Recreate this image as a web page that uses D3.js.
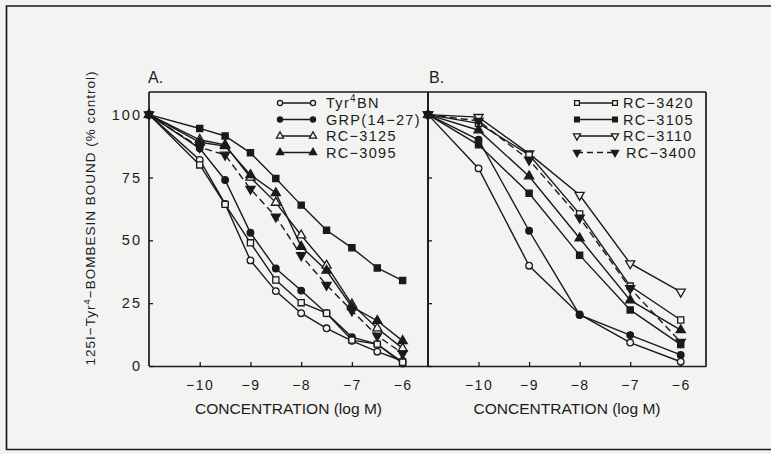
<!DOCTYPE html>
<html>
<head>
<meta charset="utf-8">
<script src="https://cdn.jsdelivr.net/npm/d3@7"></script>
<style>
  html, body { margin: 0; padding: 0; background: #f3f3f1; }
  svg { display: block; }
  text { font-family: "Liberation Sans", Arial, Helvetica, sans-serif; fill: #1c1c1c; }
</style>
</head>
<body>
<svg id="chart" width="771" height="454"></svg>
<script>
// Doses (log M); the first point of each curve is the no-peptide control
const doseA = [-11, -10, -9.5, -9, -8.5, -8, -7.5, -7, -6.5, -6];
const doseB = [-11, -10, -9, -8, -7, -6];
const yTicks = [0, 25, 50, 75, 100];
const xTicks = [-10, -9, -8, -7, -6];

// Panel A: 125I-Tyr4-bombesin bound, % of control
const tyrBN_A   = [100, 82, 64.5, 42, 29.8, 21, 15, 10, 5.7, 2];
const grp_A     = [100, 86.6, 74, 53, 38.8, 30, 21, 11.5, 8.7, 1];
const rc3420_A  = [100, 80, 64.3, 49, 34.2, 25.2, 21, 10.3, 8.7, 1.5];
const rc3105_A  = [100, 94.5, 91.5, 84.8, 74.6, 64, 54, 47, 39, 34];
const rc3125_A  = [100, 90, 88, 75, 65, 52, 40, 24.5, 15, 7];
const rc3095_A  = [100, 89, 87.5, 76, 68.8, 47.5, 38, 23.5, 18, 10];
const rc3400_A  = [100, 87, 84, 70.4, 59.4, 44, 32.2, 22, 12, 5];

// Panel B: 125I-Tyr4-bombesin bound, % of control
const tyrBN_B   = [100, 78.6, 39.9, 20.5, 9.3, 1.7];
const grp_B     = [100, 90, 53.8, 20.3, 12.3, 4.4];
const rc3095_B  = [100, 93.8, 75.5, 50.8, 26.2, 14.3];
const rc3420_B  = [100, 96.5, 84, 60.5, 31.8, 18.3];
const rc3105_B  = [100, 88, 68.7, 44.1, 22.3, 8.5];
const rc3110_B  = [100, 99, 84.5, 68, 40.8, 29.5];
const rc3400_B  = [100, 97.5, 82, 59, 30.9, 9.5];

// Legend entries
const legendA = ["Tyr4BN", "GRP(14−27)", "RC−3125", "RC−3095"];
const legendB = ["RC−3420", "RC−3105", "RC−3110", "RC−3400"];

// Marker style per compound: shape, filled, dashed line
const style = {
  "Tyr4BN":     {shape: "circle",   fill: false, dash: false},
  "GRP(14−27)": {shape: "circle",   fill: true,  dash: false},
  "RC−3125":    {shape: "triangle", fill: false, dash: false},
  "RC−3095":    {shape: "triangle", fill: true,  dash: false},
  "RC−3420":    {shape: "square",   fill: false, dash: false},
  "RC−3105":    {shape: "square",   fill: true,  dash: false},
  "RC−3110":    {shape: "down",     fill: false, dash: false},
  "RC−3400":    {shape: "down",     fill: true,  dash: true}
};

const panelA = [
  ["Tyr4BN", tyrBN_A], ["GRP(14−27)", grp_A], ["RC−3420", rc3420_A],
  ["RC−3105", rc3105_A], ["RC−3125", rc3125_A], ["RC−3095", rc3095_A],
  ["RC−3400", rc3400_A]
];
const panelB = [
  ["Tyr4BN", tyrBN_B], ["GRP(14−27)", grp_B], ["RC−3095", rc3095_B],
  ["RC−3105", rc3105_B], ["RC−3110", rc3110_B], ["RC−3420", rc3420_B],
  ["RC−3400", rc3400_B]
];

const ink = "#1a1a1a";
const paper = "#f3f3f1";
const svg = d3.select("#chart");

// Outer frame of the figure
svg.append("path")
  .attr("d", "M 780 6 H 6.5 V 449.5 H 780")
  .attr("fill", "none").attr("stroke", ink).attr("stroke-width", 1.7);

const plotTop = 92, plotBottom = 366;
const y = d3.scaleLinear().domain([0, 109]).range([plotBottom, plotTop]);
const xA = d3.scaleLinear().domain([-11, -5.5]).range([149, 428]);
const xB = d3.scaleLinear().domain([-11, -5.5]).range([428, 706]);

function symbolPath(shape, size) {
  const t = {circle: d3.symbolCircle, square: d3.symbolSquare,
             triangle: d3.symbolTriangle, down: d3.symbolTriangle}[shape];
  return d3.symbol().type(t).size(size)();
}
const sizes = {circle: 34, square: 38, triangle: 36, down: 36};

function drawMarker(g, name, cx, cy, scale) {
  const s = style[name];
  g.append("path")
    .attr("d", symbolPath(s.shape, sizes[s.shape] * (scale || 1)))
    .attr("transform", `translate(${cx},${cy})` + (s.shape === "down" ? " rotate(180)" : ""))
    .attr("fill", s.fill ? ink : paper)
    .attr("stroke", ink).attr("stroke-width", 1.3);
}

function drawPanel(x, doses, series, showLabels) {
  const g = svg.append("g");
  const left = x.range()[0], right = x.range()[1];
  g.append("line").attr("x1", left).attr("x2", left).attr("y1", plotTop).attr("y2", plotBottom)
    .attr("stroke", ink).attr("stroke-width", 1.7);
  g.append("line").attr("x1", left).attr("x2", right).attr("y1", plotTop).attr("y2", plotTop)
    .attr("stroke", ink).attr("stroke-width", 1.7);
  g.append("line").attr("x1", right).attr("x2", right).attr("y1", plotTop).attr("y2", plotBottom)
    .attr("stroke", ink).attr("stroke-width", 1.7);

  // bottom axis, ticks pointing inward
  const xAxis = d3.axisBottom(x).tickValues(xTicks).tickSizeInner(-4).tickSizeOuter(0)
    .tickPadding(14).tickFormat(d => "−" + Math.abs(d));
  const gx = g.append("g").attr("transform", `translate(0,${plotBottom})`).call(xAxis);
  gx.select(".domain").attr("stroke", ink).attr("stroke-width", 1.7);
  gx.selectAll(".tick line").attr("stroke", ink).attr("stroke-width", 1.3);
  gx.selectAll(".tick text").style("font-size", "14px").attr("letter-spacing", "1.5px")
    .attr("fill", ink).attr("dy", "0.71em");

  // left axis, ticks pointing inward
  const yAxis = d3.axisLeft(y).tickValues(yTicks).tickSizeInner(-4).tickSizeOuter(0)
    .tickPadding(7).tickFormat(showLabels ? d3.format("d") : "");
  const gy = g.append("g").attr("transform", `translate(${left},0)`).call(yAxis);
  gy.select(".domain").remove();
  gy.selectAll(".tick line").attr("stroke", ink).attr("stroke-width", 1.3);
  gy.selectAll(".tick text").style("font-size", "14.5px").attr("letter-spacing", "2px")
    .attr("fill", ink);

  // axis title
  g.append("text")
    .attr("x", (left + right) / 2).attr("y", 414)
    .attr("text-anchor", "middle").style("font-size", "15.5px")
    .attr("textLength", 187).attr("lengthAdjust", "spacingAndGlyphs")
    .text("CONCENTRATION (log M)");

  // curves
  const line = d3.line().x((d, i) => x(doses[i])).y(d => y(d));
  series.forEach(([name, vals]) => {
    g.append("path").datum(vals).attr("d", line)
      .attr("fill", "none").attr("stroke", ink).attr("stroke-width", 1.4)
      .attr("stroke-dasharray", style[name].dash ? "7,4" : null);
  });
  series.forEach(([name, vals]) => {
    vals.forEach((v, i) => drawMarker(g, name, x(doses[i]), y(v)));
  });
  return g;
}

drawPanel(xA, doseA, panelA, true);
drawPanel(xB, doseB, panelB, false);

// Panel letters
svg.append("text").attr("x", 148).attr("y", 83).style("font-size", "16px").text("A.");
svg.append("text").attr("x", 429).attr("y", 83).style("font-size", "16px").text("B.");

// Legends
function drawLegend(names, m1, m2, tx) {
  const rows = [103, 119.5, 136, 152.5];
  names.forEach((name, i) => {
    const cy = rows[i];
    const g = svg.append("g");
    g.append("line").attr("x1", m1).attr("x2", m2).attr("y1", cy).attr("y2", cy)
      .attr("stroke", ink).attr("stroke-width", 1.4)
      .attr("stroke-dasharray", style[name].dash ? "6,4" : null);
    drawMarker(g, name, m1, cy, 0.6);
    drawMarker(g, name, m2, cy, 0.6);
    const t = g.append("text").attr("x", tx + (style[name].dash ? 3 : 0)).attr("y", cy + 5)
      .style("font-size", "14.5px").attr("letter-spacing", "1.3px");
    if (name === "Tyr4BN") {
      t.append("tspan").text("Tyr");
      t.append("tspan").attr("dy", -6).style("font-size", "10px").text("4");
      t.append("tspan").attr("dy", 6).text("BN");
    } else {
      t.text(name);
    }
  });
}
drawLegend(legendA, 280, 313, 326);
drawLegend(legendB, 577, 615, 623);

// Y-axis title
const yt = svg.append("text")
  .attr("transform", "translate(95,218) rotate(-90)")
  .attr("text-anchor", "middle").style("font-size", "13.5px").attr("letter-spacing", "1px");
yt.append("tspan").text("125I−Tyr");
yt.append("tspan").attr("dy", -5).style("font-size", "9.5px").text("4");
yt.append("tspan").attr("dy", 5).text("−BOMBESIN BOUND (% control)");
</script>
</body>
</html>
